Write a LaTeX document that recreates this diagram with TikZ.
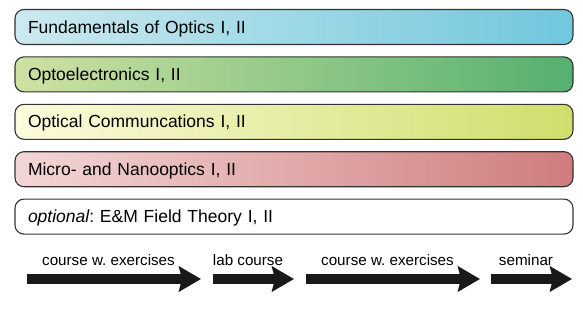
\documentclass[tikz,border=0pt]{standalone}
\usepackage{fontspec}
\setmainfont{Liberation Sans}
\usetikzlibrary{arrows.meta, positioning}
\definecolor{fundleft}{RGB}{204,233,239}
\definecolor{fundright}{RGB}{112,199,221}
\definecolor{optoleft}{RGB}{206,226,162}
\definecolor{optoright}{RGB}{85,176,110}
\definecolor{commleft}{RGB}{252,251,220}
\definecolor{commright}{RGB}{208,222,108}
\definecolor{microleft}{RGB}{243,214,214}
\definecolor{microright}{RGB}{207,124,125}

\begin{document}
\frenchspacing
\begin{tikzpicture}[
    x=1pt, y=1pt,
    node distance=11.3pt,
    course/.style={rectangle, draw=black!80, line width=1.1pt, rounded corners=9pt, minimum width=558pt, minimum height=35pt, text width=532pt, inner xsep=13pt, align=left, text height=12pt, text depth=0pt, font=\fontsize{17.5}{20}\selectfont},
    flow/.style={-{Stealth[length=22pt, width=25pt, inset=3pt]}, line width=10pt, black!90},
    lbl/.style={midway, anchor=base, yshift=14pt, xshift=-5.5pt, font=\fontsize{15.2}{18}\selectfont, text=black}
]
\useasboundingbox (0,0) rectangle (583,309);

% Lecture tracks
\node[course, left color=fundleft, right color=fundright] (fund) at (294,282) {Fundamentals of Optics I, II};
\node[course, left color=optoleft, right color=optoright, below=of fund] (opto) {Optoelectronics I, II};
\node[course, left color=commleft, right color=commright, below=of opto] (comm) {Optical Communcations I, II};
\node[course, left color=microleft, right color=microright, below=of comm] (micro) {Micro- and Nanooptics I, II};
\node[course, fill=white, below=of micro] (field) {{\itshape optional}: E\&M Field Theory I, II};

% Semester timeline
\coordinate (s1) at (27,30);  \coordinate (e1) at (201,30);
\coordinate (s2) at (213,30); \coordinate (e2) at (294,30);
\coordinate (s3) at (306,30); \coordinate (e3) at (480,30);
\coordinate (s4) at (491,30); \coordinate (e4) at (572,30);

\draw[flow] (s1) -- (e1) node[lbl] (t1) {course w. exercises};
\draw[flow] (s2) -- (e2) node[lbl] (t2) {lab course};
\draw[flow] (s3) -- (e3) node[lbl] (t3) {course w. exercises};
\draw[flow] (s4) -- (e4) node[lbl] (t4) {seminar};

\end{tikzpicture}
\end{document}
